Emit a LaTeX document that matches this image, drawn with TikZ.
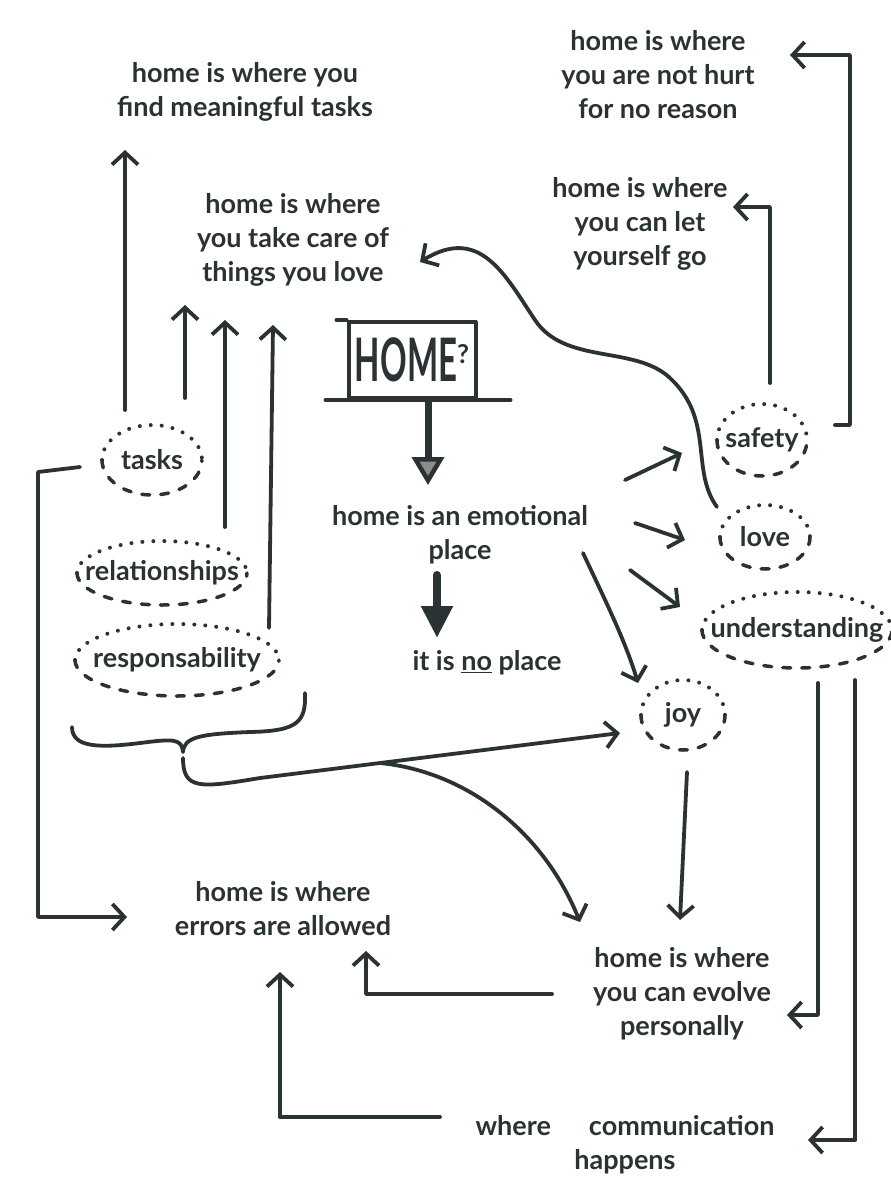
\documentclass[tikz,border=0pt]{standalone}
\usepackage{fontspec}
\setmainfont{Lato}
\usetikzlibrary{arrows.meta}
\definecolor{ink}{HTML}{2B3234}

\begin{document}
\begin{tikzpicture}[x=1pt, y=-1pt, color=ink, line width=3.8pt, line cap=round, line join=round,
	word/.style={align=center, inner sep=0pt, font=\fontsize{27}{34}\selectfont\bfseries},
	dotline/.style={line width=4pt, dash pattern=on 0pt off 11pt},
	dashline/.style={line width=3.5pt, dash pattern=on 8pt off 11pt},
	arr/.style={-{Straight Barb[length=12pt, width=26pt]}}]
	\useasboundingbox (0,0) rectangle (891,1183);

	\node[word] (meaning) at (245,92) {home is where you\\find meaningful tasks};
	\node[word] (care) at (293,240) {home is where\\you take care of\\things you love};
	\node[word] (nohurt) at (658,75) {home is where\\you are not hurt\\for no reason};
	\node[word] (letgo) at (640,224) {home is where\\you can let\\yourself go};
	\node[word] (emo) at (460,535) {home is an emotional\\place};
	\node[word] (noplace) at (487,663) {it is \underline{no} place};
	\node[word] (errors) at (283,909) {home is where\\errors are allowed};
	\node[word] (evolve) at (682,994) {home is where\\you can evolve\\personally};
	\node[word] (comm) at (625,1145) {where\hspace{38pt}communication\\happens};

	\node[draw, line width=4pt, minimum width=127pt, minimum height=76pt, inner sep=0pt, font=\bfseries] (home) at (412,360)
		{\scalebox{0.55}[1]{\fontsize{60}{60}\selectfont HOME}\raisebox{18pt}{\fontsize{26}{26}\selectfont ?}};
	\draw[line width=4pt] (home.north west) -- ++(-10,0);
	\draw[line width=4pt] ([xshift=-21pt]home.south west) -- ([xshift=33pt]home.south east);

	\foreach \nm/\x/\y/\rx/\ry/\txt in {tasks/152/460/50/35/tasks, rel/162/573/85/32/relationships,
		resp/177/660/102/36/responsability, safety/762/440/45/36/safety, love/765/537/45/32/love,
		under/797/630/95/38/understanding, joy/683/715/42/35/joy}{
		\node[word] (\nm) at (\x,\y) {\txt};
		\draw[dotline] ([xshift=-\rx pt]\nm.center) arc[start angle=180, end angle=0, x radius=\rx pt, y radius=\ry pt];
		\draw[dashline] ([xshift=-\rx pt]\nm.center) arc[start angle=180, end angle=360, x radius=\rx pt, y radius=\ry pt];
	}

	\draw[line width=7pt, -{Triangle[length=28pt, width=32pt, line width=4.5pt, fill=ink!55]}] ([xshift=16pt]home.south) -- ([shift={(-32,-50)}]emo.center);
	\draw[line width=8pt, -{Triangle[length=32pt, width=30pt]}] ([shift={(-23,40)}]emo.center) -- ([shift={(-50,-25)}]noplace.center);

	\draw[arr] ([shift={(-27,-50)}]tasks.center) -- ([shift={(-120,58)}]meaning.center);
	\draw[arr] ([shift={(33,-62)}]tasks.center) -- ([shift={(-108,65)}]care.center);
	\draw[arr] ([shift={(63,-46)}]rel.center) -- ([shift={(-68,80)}]care.center);
	\draw[arr] ([shift={(92,-32)}]resp.center) -- ([shift={(-20,85)}]care.center);

	\draw[arr] ([shift={(165,-55)}]emo.center) -- ([shift={(-80,13)}]safety.center);
	\draw[arr] ([shift={(175,-12)}]emo.center) -- ([shift={(-80,3)}]love.center);
	\draw[arr] ([shift={(170,35)}]emo.center) -- ([shift={(-117,-23)}]under.center);
	\draw[arr] ([shift={(123,18)}]emo.center) .. controls (605,600) and (625,640) .. ([shift={(-45,-32)}]joy.center);

	\draw[arr] ([shift={(-48,-30)}]love.center) .. controls (690,470) and (715,420) .. (670,378)
		.. controls (635,345) and (565,365) .. (535,320) .. controls (505,275) and (480,225) .. ([shift={(127,22)}]care.center);
	\draw[arr] ([shift={(8,-57)}]safety.center) |- ([shift={(93,-17)}]letgo.center);
	\draw[arr] ([shift={(73,-15)}]safety.center) -- ++(15,0) |- ([shift={(132,-20)}]nohurt.center);
	\draw[arr] ([shift={(-72,7)}]tasks.center) -- ++(-42,5) |- ([shift={(-156,8)}]errors.center);

	\coordinate (tip) at (183,752);
	\coordinate (split) at (380,763);
	\draw (72,727) .. controls (72,748) and (100,748) .. (140,743) .. controls (172,739) and (182,738) .. (tip)
		.. controls (184,737) and (200,734) .. (250,732) .. controls (298,731) and (306,722) .. (305,693);
	\draw[arr] ([yshift=-6pt]tip) .. controls (183,790) and (200,788) .. (260,778) -- ([shift={(-63,18)}]joy.center);
	\draw[arr] (split) .. controls (470,772) and (545,835) .. ([shift={(-102,-72)}]evolve.center);

	\draw[arr] ([shift={(4,57)}]joy.center) -- ([shift={(-2,-74)}]evolve.center);
	\draw[arr] ([shift={(21,53)}]under.center) |- ([shift={(105,21)}]evolve.center);
	\draw[arr] ([shift={(58,50)}]under.center) |- ([shift={(183,-5)}]comm.center);
	\draw[arr] ([shift={(-130,0)}]evolve.center) -| ([shift={(83,42)}]errors.center);
	\draw[arr] ([shift={(-185,-28)}]comm.center) -| ([shift={(-3,63)}]errors.center);
\end{tikzpicture}
\end{document}
